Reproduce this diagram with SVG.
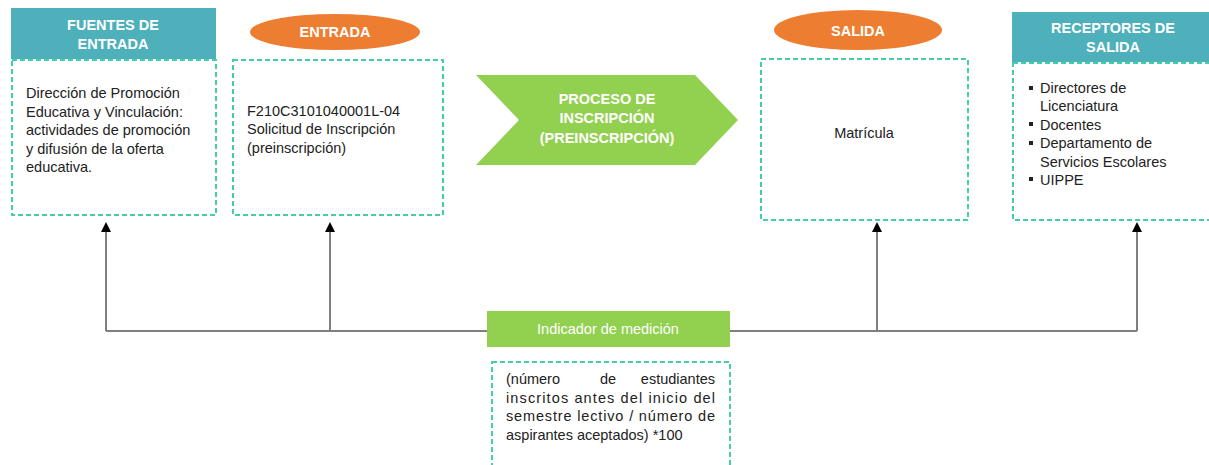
<svg xmlns="http://www.w3.org/2000/svg" width="1209" height="465" viewBox="0 0 1209 465">
<style>
  .hdr{fill:#4DB0BA}
  .box{fill:#fff;stroke:#45CFA8;stroke-width:2;stroke-dasharray:5 3}
  .ell{fill:#ED7D31}
  .ht{font-family:"Liberation Sans",Arial,sans-serif;font-size:14.5px;font-weight:bold;fill:#fff;text-anchor:middle}
  .bt{font-family:"Liberation Sans",Arial,sans-serif;font-size:14.5px;fill:#222}
  .conn{fill:none;stroke:#7F7F7F;stroke-width:2}
</style>
<defs>
  <marker id="ah" markerWidth="10" markerHeight="10" refX="5" refY="0" orient="auto-start-reverse" markerUnits="userSpaceOnUse" viewBox="0 0 10 10">
    <path d="M0,10 L5,0 L10,10 Z" fill="#000"/>
  </marker>
</defs>
<rect width="1209" height="465" fill="#fff"/>

<g id="connectors">
  <path class="conn" d="M106,331 H1137"/>
  <path class="conn" d="M106,331 V232"/>
  <path class="conn" d="M330,331 V232"/>
  <path class="conn" d="M877,331 V232"/>
  <path class="conn" d="M1137,331 V232"/>
  <path d="M101,232 L106,222 L111,232 Z" fill="#000"/>
  <path d="M325,232 L330,222 L335,232 Z" fill="#000"/>
  <path d="M872,232 L877,222 L882,232 Z" fill="#000"/>
  <path d="M1132,232 L1137,222 L1142,232 Z" fill="#000"/>
</g>

<g id="fuentes">
  <rect class="hdr" x="11" y="8" width="205" height="51"/>
  <text class="ht" x="113" y="30">FUENTES DE</text>
  <text class="ht" x="113" y="49">ENTRADA</text>
  <rect class="box" x="12" y="60" width="204" height="155"/>
  <text class="bt" x="26" y="98">Dirección de Promoción</text>
  <text class="bt" x="26" y="117">Educativa y Vinculación:</text>
  <text class="bt" x="26" y="135">actividades de promoción</text>
  <text class="bt" x="26" y="154">y difusión de la oferta</text>
  <text class="bt" x="26" y="172">educativa.</text>
</g>

<g id="entrada">
  <ellipse class="ell" cx="335" cy="32" rx="85" ry="18"/>
  <text class="ht" x="335" y="37">ENTRADA</text>
  <rect class="box" x="233" y="60" width="210" height="155"/>
  <text class="bt" x="247" y="116">F210C3101040001L-04</text>
  <text class="bt" x="247" y="134">Solicitud de Inscripción</text>
  <text class="bt" x="247" y="153">(preinscripción)</text>
</g>

<g id="proceso">
  <polygon points="476,75 695,75 738,120 695,165 476,165 519,120" fill="#92D050"/>
  <text class="ht" x="607" y="104">PROCESO DE</text>
  <text class="ht" x="607" y="123">INSCRIPCIÓN</text>
  <text class="ht" x="607" y="143">(PREINSCRIPCIÓN)</text>
</g>

<g id="salida">
  <ellipse class="ell" cx="858" cy="30" rx="84" ry="20"/>
  <text class="ht" x="858" y="36">SALIDA</text>
  <rect class="box" x="761" y="59" width="207" height="161"/>
  <text class="bt" x="864" y="138" text-anchor="middle">Matrícula</text>
</g>

<g id="receptores">
  <rect class="hdr" x="1012" y="12" width="205" height="50"/>
  <text class="ht" x="1113" y="33">RECEPTORES DE</text>
  <text class="ht" x="1113" y="52">SALIDA</text>
  <rect class="box" x="1013" y="63" width="205" height="157"/>
  <g class="bt">
    <rect x="1029" y="86" width="4" height="4" fill="#222"/>
    <text class="bt" x="1040" y="93">Directores de</text>
    <text class="bt" x="1040" y="111">Licenciatura</text>
    <rect x="1029" y="122" width="4" height="4" fill="#222"/>
    <text class="bt" x="1040" y="130">Docentes</text>
    <rect x="1029" y="141" width="4" height="4" fill="#222"/>
    <text class="bt" x="1040" y="148">Departamento de</text>
    <text class="bt" x="1040" y="167">Servicios Escolares</text>
    <rect x="1029" y="177" width="4" height="4" fill="#222"/>
    <text class="bt" x="1040" y="185">UIPPE</text>
  </g>
</g>

<g id="indicador">
  <rect x="487" y="311" width="243" height="36" fill="#92D050"/>
  <text x="608" y="334" text-anchor="middle" font-family="Liberation Sans, Arial, sans-serif" font-size="14.5" fill="#fff">Indicador de medición</text>
  <rect class="box" x="492" y="362" width="238" height="115"/>
  <text class="bt" y="384"><tspan x="506">(número</tspan><tspan x="608" text-anchor="middle">de</tspan><tspan x="715" text-anchor="end">estudiantes</tspan></text>
  <text class="bt" x="506" y="403" textLength="209" lengthAdjust="spacing">inscritos antes del inicio del</text>
  <text class="bt" x="506" y="421" textLength="209" lengthAdjust="spacing">semestre lectivo / número de</text>
  <text class="bt" x="506" y="440">aspirantes aceptados) *100</text>
</g>
</svg>
